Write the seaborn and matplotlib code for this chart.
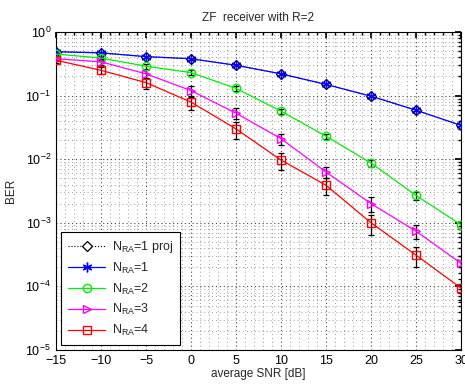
import numpy as np
import pandas as pd
import matplotlib
matplotlib.use("Agg")
import matplotlib.pyplot as plt
import seaborn as sns
from matplotlib.ticker import MultipleLocator, LogLocator, NullFormatter

snr = [-15, -10, -5, 0, 5, 10, 15, 20, 25, 30]

ber_1 = [0.49, 0.47, 0.41, 0.38, 0.30, 0.22, 0.15, 0.098, 0.059, 0.034]
ber_2 = [0.45, 0.39, 0.29, 0.23, 0.13, 0.057, 0.023, 0.0087, 0.0027, 0.00093]
ber_3 = [0.38, 0.34, 0.22, 0.12, 0.053, 0.021, 0.0063, 0.0020, 0.00074, 0.00023]
ber_4 = [0.36, 0.25, 0.16, 0.079, 0.030, 0.0097, 0.0039, 0.0010, 0.00031, 0.000094]
ber_1_proj = [0.49, 0.47, 0.41, 0.38, 0.30, 0.22, 0.15, 0.098, 0.059, 0.034]

# relative half-width of the error bars
err_1 = [0.06, 0.06, 0.07, 0.08, 0.08, 0.08, 0.08, 0.1, 0.1, 0.1]
err_2 = [0.06, 0.06, 0.08, 0.08, 0.1, 0.1, 0.1, 0.12, 0.15, 0.15]
err_3 = [0.08, 0.1, 0.15, 0.2, 0.2, 0.2, 0.2, 0.25, 0.25, 0.3]
err_4 = [0.1, 0.12, 0.2, 0.25, 0.3, 0.3, 0.3, 0.35, 0.35, 0.4]

labels = [r"$\mathregular{N_{RA}}$=1", r"$\mathregular{N_{RA}}$=2",
          r"$\mathregular{N_{RA}}$=3", r"$\mathregular{N_{RA}}$=4"]

sns.set_theme(style="white")
plt.rcParams['font.family'] = ['Liberation Sans', 'DejaVu Sans']
plt.rcParams['mathtext.fontset'] = 'custom'
plt.rcParams['mathtext.rm'] = 'Liberation Sans'

fig = plt.figure(figsize=(4.65, 3.89), dpi=100)
ax = fig.add_axes([0.1204, 0.1003, 0.871, 0.8174])

# error bars (black)
for y, e in zip([ber_1, ber_2, ber_3, ber_4], [err_1, err_2, err_3, err_4]):
    y = np.array(y)
    e = np.array(e)
    ax.errorbar(snr, y, yerr=[y * e, y * e], fmt='none', ecolor='black',
                elinewidth=0.9, capsize=2, capthick=0.9, zorder=3)

sns.lineplot(x=snr, y=ber_1_proj, ax=ax, color='black', linestyle=':',
             marker='D', markersize=5.5, markerfacecolor='white',
             markeredgecolor='black', markeredgewidth=0.9, linewidth=0.8,
             label=r"$\mathregular{N_{RA}}$=1 proj", zorder=4)

series = [ber_1, ber_2, ber_3, ber_4]
colors = ['#0000ff', '#00ee00', '#ff00ff', '#ff0000']
markers = [(6, 2, 0), 'o', '>', 's']
sizes = [7, 6, 6, 5.5]
for y, c, m, ms, lab in zip(series, colors, markers, sizes, labels):
    sns.lineplot(x=snr, y=y, ax=ax, color=c, marker=m, markersize=ms,
                 markerfacecolor='none',
                 markeredgecolor=c, markeredgewidth=1.0, linewidth=0.9,
                 label=lab, zorder=5)

ax.set_yscale('log')
ax.set_xlim(-15, 30)
ax.set_ylim(1e-5, 1)
ax.xaxis.set_major_locator(MultipleLocator(5))
ax.xaxis.set_minor_locator(MultipleLocator(1))
ax.yaxis.set_major_locator(LogLocator(base=10, numticks=10))
ax.yaxis.set_minor_locator(LogLocator(base=10, subs=np.arange(2, 10), numticks=20))
ax.yaxis.set_minor_formatter(NullFormatter())
ax.set_xticks(snr)
ax.set_xticklabels(['\u221215', '\u221210', '\u22125', '0', '5', '10', '15', '20', '25', '30'])

ax.grid(which='major', linestyle=(0, (1, 2.5)), color='#444444', linewidth=0.8)
ax.grid(which='minor', linestyle=(0, (1, 3)), color='#999999', linewidth=0.7)
ax.tick_params(which='both', direction='in', top=True, right=True,
               labelsize=9, colors='black')
ax.tick_params(which='major', length=4)
ax.tick_params(which='minor', length=2)
for s in ax.spines.values():
    s.set_color('black')
    s.set_linewidth(0.8)

ax.set_title('ZF  receiver with R=2', fontsize=8.5, pad=8)
ax.set_xlabel('average SNR [dB]', fontsize=8.5, labelpad=1)
ax.set_ylabel('BER', fontsize=8.5, labelpad=6)

leg = ax.legend(loc='lower left', fontsize=9, frameon=True, fancybox=False,
                framealpha=1, edgecolor='black', handlelength=3.0,
                borderaxespad=0.4, labelspacing=0.45, borderpad=0.55,
                handletextpad=0.5)
leg.get_frame().set_linewidth(0.8)
leg.get_frame().set_facecolor('white')
leg.set_zorder(10)

fig.savefig('out.png', dpi=100)
